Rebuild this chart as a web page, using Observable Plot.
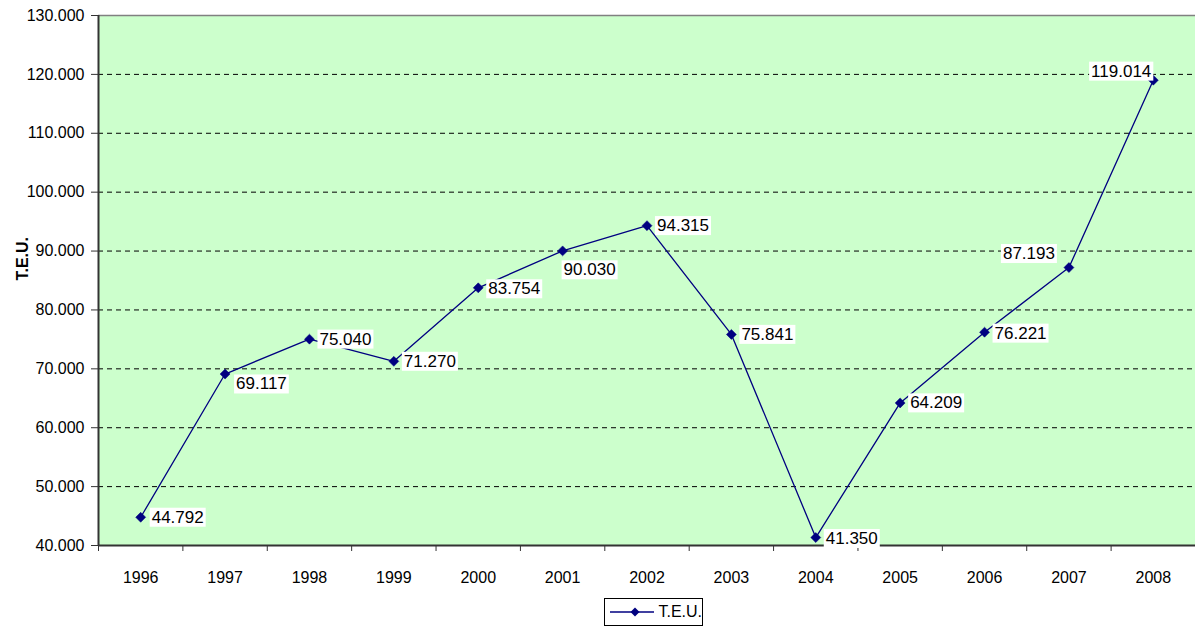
<!DOCTYPE html>
<html>
<head>
<meta charset="utf-8">
<script src="https://cdn.jsdelivr.net/npm/d3@7"></script>
<script src="https://cdn.jsdelivr.net/npm/@observablehq/plot@0.6"></script>
<style>
  html, body { margin: 0; padding: 0; background: #fff; }
  body { width: 1195px; height: 631px; position: relative; overflow: hidden; font-family: "Liberation Sans", Arial, sans-serif; }
  #chart svg text { font-family: "Liberation Sans", Arial, sans-serif; }
  #legend { position: absolute; left: 604px; top: 598px; width: 99px; height: 28px; border: 1px solid #000; background: #fff; box-sizing: border-box; display: flex; align-items: center; font-size: 16px; }
  #legend svg { margin-left: 5px; margin-right: 4px; }
</style>
</head>
<body>
<div id="chart"></div>
<div id="legend"></div>
<script>
// ---- data ----
const years = [1996, 1997, 1998, 1999, 2000, 2001, 2002, 2003, 2004, 2005, 2006, 2007, 2008];
const teu = [44792, 69117, 75040, 71270, 83754, 90030, 94315, 75841, 41350, 64209, 76221, 87193, 119014];
const yTicks = [40000, 50000, 60000, 70000, 80000, 90000, 100000, 110000, 120000, 130000];
const seriesName = "T.E.U.";
const yTitle = "T.E.U.";
// label placement (pixel offsets, anchor) per point
const labelPlacement = [
  [11, 0, "start"], [11, 10, "start"], [10, 0, "start"], [10, 0, "start"], [10, 1, "start"],
  [1, 19, "start"], [10, 0, "start"], [10, 0, "start"], [10, 1, "start"], [10, 0, "start"],
  [10, 1, "start"], [-14, -14, "end"], [-2, -9, "end"]
];

const NAVY = "#000080";
const loc = d3.formatLocale({decimal: ",", thousands: ".", grouping: [3], currency: ["", ""]});
const fmt = loc.format(",");

const data = years.map((y, i) => ({year: y, value: teu[i], i}));
const boundaries = [years[0] - 0.5, ...years.map(y => y + 0.5)];

const labelMarks = data.map((d, i) => Plot.text([d], {
  x: "year", y: "value", text: v => fmt(v.value),
  dx: labelPlacement[i][0], dy: labelPlacement[i][1], textAnchor: labelPlacement[i][2],
  fill: "#000", fontSize: 17, className: "dlabel"
}));

const chart = Plot.plot({
  width: 1195,
  height: 590,
  marginLeft: 98,
  marginRight: 0,
  marginTop: 15,
  marginBottom: 45,
  style: {fontFamily: "'Liberation Sans', Arial, sans-serif", fontSize: "16px", background: "#fff", overflow: "visible"},
  x: {domain: [boundaries[0], boundaries[boundaries.length - 1]]},
  y: {domain: [yTicks[0], yTicks[yTicks.length - 1]]},
  marks: [
    Plot.frame({fill: "#CCFFCC", stroke: null}),
    Plot.ruleY(yTicks.slice(1, -1), {stroke: "#000", strokeWidth: 1, strokeDasharray: "5,4"}),
    Plot.ruleY([yTicks[yTicks.length - 1]], {stroke: "#808080", strokeWidth: 1.5}),
    Plot.axisY({ticks: yTicks, tickFormat: fmt, tickSize: 7, tickPadding: 7, label: null, stroke: "#333", color: "#000", fontSize: 16}),
    Plot.axisX({ticks: years, tickFormat: d => String(d), tickSize: 0, tickPadding: 26, label: null, color: "#000", fontSize: 16}),
    Plot.axisX({ticks: boundaries, tickFormat: () => "", tickSize: 6, label: null, stroke: "#333"}),
    Plot.ruleX([boundaries[0]], {stroke: "#333", strokeWidth: 2}),
    Plot.ruleY([yTicks[0]], {stroke: "#333", strokeWidth: 2}),
    Plot.text([yTitle], {frameAnchor: "left", dx: -76, rotate: -90, fontWeight: "bold", fontSize: 16, fill: "#000"}),
    Plot.line(data, {x: "year", y: "value", stroke: NAVY, strokeWidth: 1.3}),
    Plot.dot(data, {x: "year", y: "value", symbol: "diamond2", r: 4.5, fill: NAVY, stroke: NAVY, strokeWidth: 0.5}),
    ...labelMarks
  ]
});
document.getElementById("chart").appendChild(chart);

// white boxes behind data labels
chart.querySelectorAll(".dlabel text").forEach(t => {
  const b = t.getBBox();
  const r = document.createElementNS("http://www.w3.org/2000/svg", "rect");
  r.setAttribute("x", b.x - 2);
  r.setAttribute("y", b.y);
  r.setAttribute("width", b.width + 4);
  r.setAttribute("height", b.height);
  r.setAttribute("fill", "#fff");
  const tr = t.getAttribute("transform");
  if (tr) r.setAttribute("transform", tr);
  t.parentNode.insertBefore(r, t);
});

// legend
const lg = document.getElementById("legend");
lg.innerHTML = `<svg width="50" height="12"><line x1="0" y1="6" x2="50" y2="6" stroke="${NAVY}" stroke-width="1.3"/><path d="M25,1.5 L29.5,6 L25,10.5 L20.5,6 Z" fill="${NAVY}"/></svg><span>${seriesName}</span>`;
</script>
</body>
</html>
